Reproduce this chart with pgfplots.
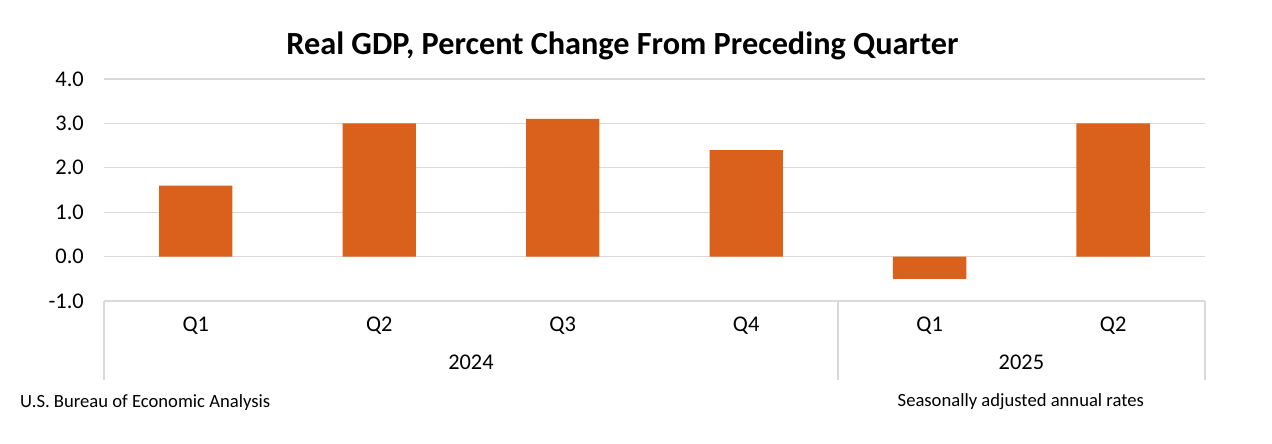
\documentclass[border=0pt]{standalone}
\usepackage{pgfplots}
\pgfplotsset{compat=1.18}
\usepackage{fontspec}
\setmainfont{Carlito}
\definecolor{barorange}{HTML}{D9611C}
\definecolor{gridgray}{HTML}{D9D9D9}
\begin{document}
\begin{tikzpicture}
\path[use as bounding box] (0,0) rectangle (1272bp,444bp);
\begin{axis}[
    at={(104bp,143bp)}, anchor=south west,
    scale only axis, width=1101bp, height=222bp,
    xmin=-0.5, xmax=5.5, ymin=-1, ymax=4,
    axis line style={draw=none},
    tick style={draw=none},
    ytick={-1,0,1,2,3,4},
    ymajorgrids, grid style={gridgray, line width=1.2bp},
    xtick={0,1,2,3,4,5},
    xticklabels={Q1,Q2,Q3,Q4,Q1,Q2},
    major tick length=0pt,
    /pgf/number format/assume math mode=true,
    yticklabel={\pgfmathprintnumber[fixed,fixed zerofill,precision=1]{\tick}},
    yticklabel style={anchor=east, inner sep=0pt, xshift=-20bp, font=\fontsize{22.5}{26}\selectfont},
    xticklabel style={anchor=base, inner sep=0pt, yshift=-31bp, font=\fontsize{22.5}{26}\selectfont},
    clip=false,
]
\addplot[ybar, bar width=0.4, fill=barorange, draw=none] coordinates {
    (0,1.6) (1,3.0) (2,3.1) (3,2.4) (4,-0.5) (5,3.0)
};
\draw[gridgray, line width=1.2bp] (axis cs:-0.5,-1) -- ([yshift=-79bp]axis cs:-0.5,-1);
\draw[gridgray, line width=1.2bp] (axis cs:3.5,-1) -- ([yshift=-79bp]axis cs:3.5,-1);
\draw[gridgray, line width=1.2bp] (axis cs:5.5,-1) -- ([yshift=-79bp]axis cs:5.5,-1);
\node[anchor=base, inner sep=0pt, yshift=-68bp, font=\fontsize{22.5}{26}\selectfont] at (axis cs:1.5,-1) {2024};
\node[anchor=base, inner sep=0pt, yshift=-68bp, font=\fontsize{22.5}{26}\selectfont] at (axis cs:4.5,-1) {2025};
\end{axis}
\node[anchor=base, inner sep=0pt, font=\fontsize{32.4}{36}\selectfont\bfseries] at (622.5bp,389bp) {Real GDP, Percent Change From Preceding Quarter};
\node[anchor=base west, inner sep=0pt, font=\fontsize{18.7}{22}\selectfont] at (20bp,36.7bp) {U.S. Bureau of Economic Analysis};
\node[anchor=base west, inner sep=0pt, font=\fontsize{18.7}{22}\selectfont] at (897.5bp,37.3bp) {Seasonally adjusted annual rates};
\end{tikzpicture}
\end{document}
